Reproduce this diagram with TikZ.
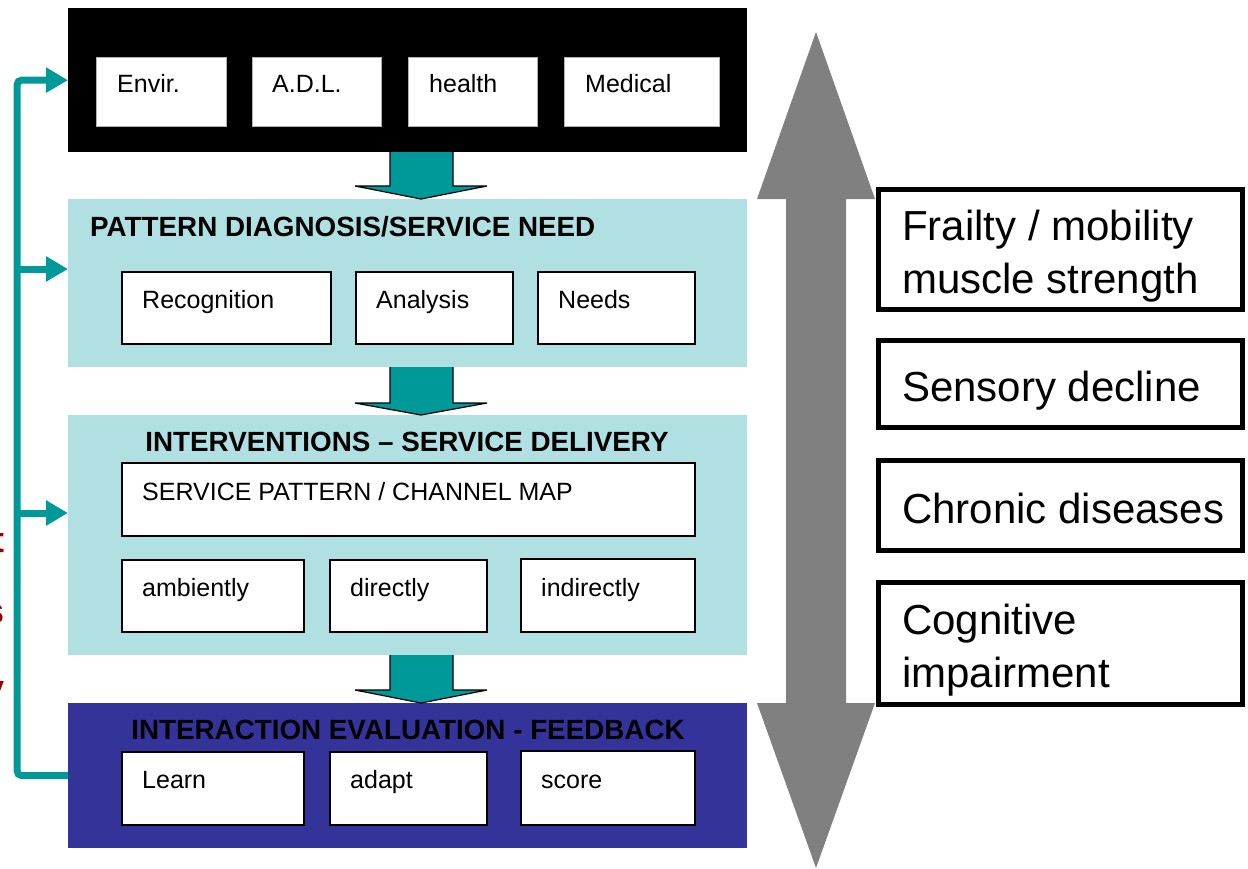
\documentclass[tikz,border=0pt]{standalone}
\usepackage{fontspec}
\setmainfont{Liberation Sans}
\usetikzlibrary{arrows.meta,calc}
\definecolor{tealc}{RGB}{0,153,153}
\definecolor{cyanbg}{RGB}{176,224,226}
\definecolor{navyc}{RGB}{51,51,153}
\definecolor{grayarrow}{RGB}{128,128,128}
\definecolor{darkredc}{RGB}{153,0,0}
\begin{document}
\begin{tikzpicture}[x=1pt,y=-1pt,
  block/.style={draw=none, inner sep=0pt, anchor=north west, minimum width=679pt},
  sbox/.style={draw=black, line width=1.5pt, fill=white, anchor=north west, inner sep=0pt},
  wbox/.style={draw=gray!60, line width=1pt, fill=white, anchor=north west, inner sep=0pt},
  stext/.style={anchor=base west, inner sep=0pt, font=\fontsize{25}{30}\selectfont},
  titletext/.style={inner sep=0pt, font=\fontsize{27.8}{32}\selectfont\bfseries},
  rbox/.style={draw=black, line width=5pt, fill=white, minimum width=364pt, inner sep=0pt},
  rtext/.style={anchor=west, align=left, inner sep=0pt, font=\fontsize{42}{53}\selectfont},
  flow/.style={fill=tealc, draw=black, line width=1.2pt, line join=miter},
  fb/.style={draw=tealc, line width=7pt, rounded corners=5pt,
    -{Triangle[length=22pt,width=24pt]}},
  fbarrow/.style={draw=tealc, line width=7pt, -{Triangle[length=22pt,width=24pt]}},
  frag/.style={anchor=base east, inner sep=0pt, text=darkredc, font=\fontsize{36}{40}\selectfont\bfseries}
]
\useasboundingbox (0,0) rectangle (1248,868);
\fill[white] (0,0) rectangle (1248,868);

% red text fragments cut by the left edge
\node[frag] (fragt) at (5,552) {t};
\node[frag] (frags) at (5,623) {s};
\node[frag] (fragy) at (5,700) {y};

% grey double arrow
\fill[grayarrow] (816,32) -- (875,199) -- (846,199) -- (846,703) -- (875,703)
  -- (816,868) -- (757,703) -- (786,703) -- (786,199) -- (757,199) -- cycle;

% blocks
\node[block, fill=black, minimum height=144pt] (top) at (68,8) {};
\node[block, fill=cyanbg, minimum height=168pt] (pat) at (68,199) {};
\node[block, fill=cyanbg, minimum height=240pt] (int) at (68,415) {};
\node[block, fill=navyc, minimum height=145pt] (eval) at (68,703) {};

% feedback loop
\draw[fb] (eval.west) -| (17,80) -- (top.west);
\coordinate (fbpat) at (17,269);
\coordinate (fbint) at (17,513);
\draw[fbarrow] (fbpat) -- (pat.west |- fbpat);
\draw[fbarrow] (fbint) -- (int.west |- fbint);

% flow arrows
\draw[flow] (390,152) -- (390,186) -- (355,186) -- (421,199) -- (487,186) -- (453,186) -- (453,152);
\draw[flow] (390,367) -- (390,403) -- (355,403) -- (421,415) -- (487,403) -- (453,403) -- (453,367);
\draw[flow] (390,655) -- (390,690) -- (355,690) -- (421,703) -- (487,690) -- (453,690) -- (453,655);

% top block boxes
\node[wbox, minimum width=130pt, minimum height=69pt] (envir) at (96,57) {};
\node[wbox, minimum width=129pt, minimum height=69pt] (adl) at (252,57) {};
\node[wbox, minimum width=129pt, minimum height=69pt] (health) at (408,57) {};
\node[wbox, minimum width=155pt, minimum height=69pt] (medical) at (564,57) {};
\node[stext] (tenvir) at (117,92) {Envir.};
\node[stext] (tadl) at (272,92) {A.D.L.};
\node[stext] (thealth) at (429,92) {health};
\node[stext] (tmedical) at (585,92) {Medical};

% pattern block
\node[titletext, anchor=base west] (pattitle) at (90,236) {PATTERN DIAGNOSIS/SERVICE NEED};
\node[sbox, minimum width=209pt, minimum height=72pt] (recog) at (121,271) {};
\node[sbox, minimum width=157pt, minimum height=72pt] (analysis) at (355,271) {};
\node[sbox, minimum width=157pt, minimum height=72pt] (needs) at (537,271) {};
\node[stext] (trecog) at (142,308) {Recognition};
\node[stext] (tanalysis) at (376,308) {Analysis};
\node[stext] (tneeds) at (558,308) {Needs};

% interventions block
\node[titletext, anchor=base] (inttitle) at (407,451) {INTERVENTIONS – SERVICE DELIVERY};
\node[sbox, minimum width=573pt, minimum height=73pt] (service) at (121,462) {};
\node[stext] (tservice) at (142,500) {SERVICE PATTERN / CHANNEL MAP};
\node[sbox, minimum width=182pt, minimum height=72pt] (ambient) at (121,559) {};
\node[sbox, minimum width=157pt, minimum height=72pt] (direct) at (329,559) {};
\node[sbox, minimum width=174pt, minimum height=73pt] (indirect) at (520,558) {};
\node[stext] (tambient) at (142,596) {ambiently};
\node[stext] (tdirect) at (350,596) {directly};
\node[stext] (tindirect) at (541,596) {indirectly};

% evaluation block
\node[titletext, anchor=base] (evaltitle) at (408,739) {INTERACTION EVALUATION - FEEDBACK};
\node[sbox, minimum width=182pt, minimum height=73pt] (learn) at (121,751) {};
\node[sbox, minimum width=157pt, minimum height=73pt] (adapt) at (329,751) {};
\node[sbox, minimum width=174pt, minimum height=74pt] (score) at (520,750) {};
\node[stext] (tlearn) at (142,788) {Learn};
\node[stext] (tadapt) at (350,788) {adapt};
\node[stext] (tscore) at (541,788) {score};

% right-hand boxes
\node[rbox, minimum height=120pt] (frailty) at (1060,249.5) {};
\node[rbox, minimum height=87pt] (sensory) at (1060,384) {};
\node[rbox, minimum height=90pt] (chronic) at (1060,505.5) {};
\node[rbox, minimum height=122pt] (cognitive) at (1060,643.5) {};
\node[rtext] (tfrailty) at (902,256) {Frailty / mobility\\muscle strength};
\node[rtext] (tsensory) at (902,391) {Sensory decline};
\node[rtext] (tchronic) at (902,508) {Chronic diseases};
\node[rtext] (tcognitive) at (902,650) {Cognitive\\impairment};
\end{tikzpicture}
\end{document}
